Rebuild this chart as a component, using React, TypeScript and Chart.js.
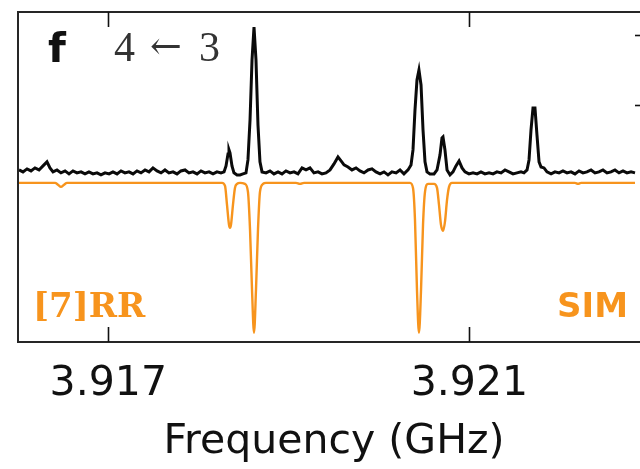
import React, { useEffect, useRef } from 'react';
import { Chart, registerables } from 'chart.js';

Chart.register(...registerables);

// Axis ranges and ticks
const xRange: [number, number] = [3.916, 3.923];
const yRange: [number, number] = [-2.39, 2.33];
const xTickValues = [3.917, 3.921];
const yTickValues = [1, 2];

// Experimental spectrum (GHz, intensity a.u.)
const expSpectrum: [number, number][] = [
  [3.916011, 0.071], [3.916055, 0.043], [3.9161, 0.086], [3.916144, 0.057], [3.916188, 0.1],
  [3.916233, 0.071], [3.916277, 0.129], [3.916321, 0.186], [3.916354, 0.1], [3.916388, 0.043],
  [3.916432, 0.071], [3.916476, 0.029], [3.916521, 0.057], [3.916565, 0.014], [3.916609, 0.057],
  [3.916653, 0.029], [3.916698, 0.043], [3.916742, 0.014], [3.916786, 0.043], [3.916831, 0.014],
  [3.916875, 0.029], [3.916919, 0.0], [3.916964, 0.029], [3.917008, 0.014], [3.917052, 0.043],
  [3.917097, 0.014], [3.917141, 0.057], [3.917185, 0.029], [3.917229, 0.043], [3.917274, 0.014],
  [3.917318, 0.057], [3.917362, 0.029], [3.917407, 0.071], [3.917451, 0.043], [3.917495, 0.1],
  [3.91754, 0.057], [3.917584, 0.029], [3.917628, 0.071], [3.917672, 0.029], [3.917717, 0.043],
  [3.917761, 0.014], [3.917805, 0.057], [3.91785, 0.071], [3.917894, 0.029], [3.917938, 0.043],
  [3.917983, 0.014], [3.918027, 0.057], [3.918071, 0.029], [3.918116, 0.043], [3.91816, 0.014],
  [3.918204, 0.043], [3.918248, 0.029], [3.918282, 0.043], [3.918304, 0.129], [3.918326, 0.3],
  [3.918337, 0.357], [3.918348, 0.314], [3.91837, 0.129], [3.918392, 0.029], [3.918426, 0.0],
  [3.918459, 0.0], [3.918492, 0.014], [3.918525, 0.029], [3.918547, 0.214], [3.91857, 0.786],
  [3.918592, 1.643], [3.918614, 2.114], [3.918636, 1.643], [3.918658, 0.714], [3.91868, 0.186],
  [3.918703, 0.043], [3.918747, 0.029], [3.918791, 0.057], [3.918835, 0.014], [3.91888, 0.043],
  [3.918924, 0.014], [3.918968, 0.057], [3.919013, 0.029], [3.919057, 0.043], [3.919101, 0.014],
  [3.919146, 0.1], [3.91919, 0.071], [3.919234, 0.1], [3.919278, 0.029], [3.919323, 0.043],
  [3.919367, 0.014], [3.919411, 0.029], [3.919456, 0.071], [3.9195, 0.157], [3.919544, 0.257],
  [3.919578, 0.2], [3.919611, 0.143], [3.919655, 0.114], [3.919699, 0.071], [3.919744, 0.1],
  [3.919788, 0.057], [3.919832, 0.029], [3.919877, 0.071], [3.919921, 0.086], [3.919965, 0.043],
  [3.92001, 0.014], [3.920054, 0.043], [3.920098, 0.0], [3.920142, 0.043], [3.920187, 0.029],
  [3.920231, 0.071], [3.920275, 0.014], [3.92032, 0.071], [3.920353, 0.143], [3.920375, 0.357],
  [3.920397, 0.929], [3.920419, 1.357], [3.920441, 1.5], [3.920464, 1.286], [3.920486, 0.643],
  [3.920508, 0.186], [3.92053, 0.043], [3.920563, 0.014], [3.920608, 0.014], [3.920641, 0.071],
  [3.920674, 0.286], [3.920696, 0.529], [3.920707, 0.543], [3.920729, 0.357], [3.920752, 0.071],
  [3.920785, 0.0], [3.920818, 0.043], [3.920851, 0.129], [3.920885, 0.2], [3.920918, 0.1],
  [3.920951, 0.043], [3.920995, 0.014], [3.92104, 0.029], [3.921084, 0.014], [3.921128, 0.043],
  [3.921172, 0.014], [3.921217, 0.029], [3.921261, 0.014], [3.921305, 0.043], [3.92135, 0.029],
  [3.921394, 0.071], [3.921438, 0.043], [3.921483, 0.014], [3.921527, 0.029], [3.921571, 0.043],
  [3.921604, 0.029], [3.921638, 0.071], [3.92166, 0.214], [3.921682, 0.643], [3.921704, 0.957],
  [3.921726, 0.957], [3.921748, 0.571], [3.921771, 0.186], [3.921793, 0.114], [3.921826, 0.1],
  [3.921859, 0.043], [3.921904, 0.014], [3.921948, 0.043], [3.921992, 0.029], [3.922036, 0.057],
  [3.922081, 0.029], [3.922125, 0.043], [3.922169, 0.014], [3.922214, 0.057], [3.922258, 0.029],
  [3.922302, 0.043], [3.922347, 0.071], [3.922391, 0.029], [3.922435, 0.043], [3.922479, 0.071],
  [3.922524, 0.029], [3.922568, 0.043], [3.922612, 0.071], [3.922657, 0.029], [3.922701, 0.057],
  [3.922745, 0.029], [3.92279, 0.043], [3.922834, 0.029],
];

// Simulated spectrum (drawn inverted)
const simSpectrum: [number, number][] = [
  [3.916011, -0.114], [3.91641, -0.114], [3.916443, -0.14], [3.916476, -0.171], [3.91651, -0.14],
  [3.916543, -0.114], [3.91826, -0.114], [3.918293, -0.157], [3.918315, -0.429], [3.918337, -0.714],
  [3.918348, -0.757], [3.918359, -0.714], [3.918381, -0.429], [3.918403, -0.186], [3.918426, -0.129],
  [3.918459, -0.114], [3.918514, -0.129], [3.918547, -0.243], [3.91857, -0.786], [3.918592, -1.643],
  [3.918614, -2.257], [3.918636, -1.643], [3.918658, -0.786], [3.91868, -0.243], [3.918714, -0.129],
  [3.918747, -0.114], [3.919079, -0.114], [3.919123, -0.129], [3.919168, -0.114], [3.920342, -0.114],
  [3.920375, -0.186], [3.920397, -0.643], [3.920419, -1.643], [3.920441, -2.257], [3.920464, -1.643],
  [3.920486, -0.714], [3.920508, -0.243], [3.920541, -0.129], [3.920608, -0.129], [3.920641, -0.186],
  [3.920663, -0.429], [3.920685, -0.714], [3.920707, -0.8], [3.920729, -0.671], [3.920752, -0.357],
  [3.920774, -0.171], [3.920807, -0.114], [3.922169, -0.114], [3.922203, -0.129], [3.922236, -0.114],
  [3.922834, -0.114],
];

const panelLabel = 'f';
const transitionLeft = '4';
const transitionArrow = '←';
const transitionRight = '3';
const methodLabel = '[7]RR';
const simLabel = 'SIM';
const xTitle = 'Frequency (GHz)';

const ORANGE = '#f7941d';

export default function App() {
  const ref = useRef<HTMLCanvasElement>(null);

  useEffect(() => {
    const canvas = ref.current;
    if (!canvas) return;

    const decor = {
      id: 'decor',
      afterDraw(chart: any) {
        const { ctx, chartArea: a, scales } = chart;
        ctx.save();
        // frame
        ctx.strokeStyle = '#262626';
        ctx.lineWidth = 2;
        ctx.strokeRect(a.left, a.top, a.right - a.left, a.bottom - a.top);
        // inward ticks
        ctx.lineWidth = 1.6;
        ctx.strokeStyle = '#111';
        const tl = 15;
        scales.x.ticks.forEach((t: any) => {
          const px = Math.round(scales.x.getPixelForValue(t.value)) + 0.5;
          ctx.beginPath();
          ctx.moveTo(px, a.bottom);
          ctx.lineTo(px, a.bottom - tl);
          ctx.moveTo(px, a.top);
          ctx.lineTo(px, a.top + tl);
          ctx.stroke();
        });
        scales.y.ticks.forEach((t: any) => {
          const py = Math.round(scales.y.getPixelForValue(t.value)) + 0.5;
          ctx.beginPath();
          ctx.moveTo(a.right, py);
          ctx.lineTo(a.right - tl, py);
          ctx.stroke();
        });
        // texts
        ctx.textBaseline = 'alphabetic';
        ctx.textAlign = 'left';
        ctx.fillStyle = '#111';
        ctx.font = "bold 41px 'DejaVu Sans'";
        ctx.fillText(panelLabel, a.left + 30, a.top + 50);

        ctx.fillStyle = '#333';
        ctx.font = "42px 'Liberation Serif'";
        ctx.fillText(transitionLeft, a.left + 96, a.top + 49);
        ctx.fillText(transitionRight, a.left + 181, a.top + 49);
        ctx.textAlign = 'center';
        ctx.font = "38px 'DejaVu Serif'";
        ctx.fillText(transitionArrow, a.left + 148, a.top + 47);

        ctx.fillStyle = ORANGE;
        ctx.textAlign = 'left';
        ctx.font = "bold 34px 'DejaVu Serif'";
        ctx.fillText(methodLabel, a.left + 15, a.bottom - 25);
        ctx.textAlign = 'right';
        ctx.font = "bold 34px 'DejaVu Sans'";
        ctx.fillText(simLabel, 628, a.bottom - 25);
        ctx.restore();
      },
    };

    const chart = new Chart(canvas, {
      type: 'line',
      data: {
        datasets: [
          {
            data: simSpectrum.map(([x, y]) => ({ x, y })),
            borderColor: ORANGE,
            borderWidth: 2.4,
            pointRadius: 0,
            cubicInterpolationMode: 'monotone',
          },
          {
            data: expSpectrum.map(([x, y]) => ({ x, y })),
            borderColor: '#0a0a0a',
            borderWidth: 3,
            pointRadius: 0,
            tension: 0,
          },
        ],
      },
      options: {
        animation: false,
        responsive: false,
        maintainAspectRatio: false,
        layout: { padding: { left: 18, top: 12, right: 20, bottom: 0 } },
        plugins: { legend: { display: false }, tooltip: { enabled: false } },
        scales: {
          x: {
            type: 'linear',
            min: xRange[0],
            max: xRange[1],
            afterBuildTicks: (s: any) => {
              s.ticks = xTickValues.map((v) => ({ value: v }));
            },
            afterFit: (s: any) => {
              s.height = 127;
            },
            ticks: {
              autoSkip: false,
              maxRotation: 0,
              padding: 18,
              color: '#111',
              font: { family: 'DejaVu Sans', size: 41 },
              callback: (v: any) => Number(v).toFixed(3),
            },
            grid: { display: false, drawTicks: false },
            border: { display: false },
            title: {
              display: true,
              text: xTitle,
              color: '#111',
              font: { family: 'DejaVu Sans', size: 41 },
              padding: { top: 0, bottom: 2 },
            },
          },
          y: {
            type: 'linear',
            min: yRange[0],
            max: yRange[1],
            afterBuildTicks: (s: any) => {
              s.ticks = yTickValues.map((v) => ({ value: v }));
            },
            afterFit: (s: any) => {
              s.width = 0;
            },
            ticks: { display: false },
            grid: { display: false, drawTicks: false },
            border: { display: false },
          },
        },
      },
      plugins: [decor],
    });
    return () => chart.destroy();
  }, []);

  return (
    <div
      style={{
        position: 'fixed',
        left: 0,
        top: 0,
        width: 640,
        height: 469,
        overflow: 'hidden',
        background: '#fff',
      }}
    >
      <canvas ref={ref} width={670} height={469} style={{ display: 'block', width: 670, height: 469 }} />
    </div>
  );
}
